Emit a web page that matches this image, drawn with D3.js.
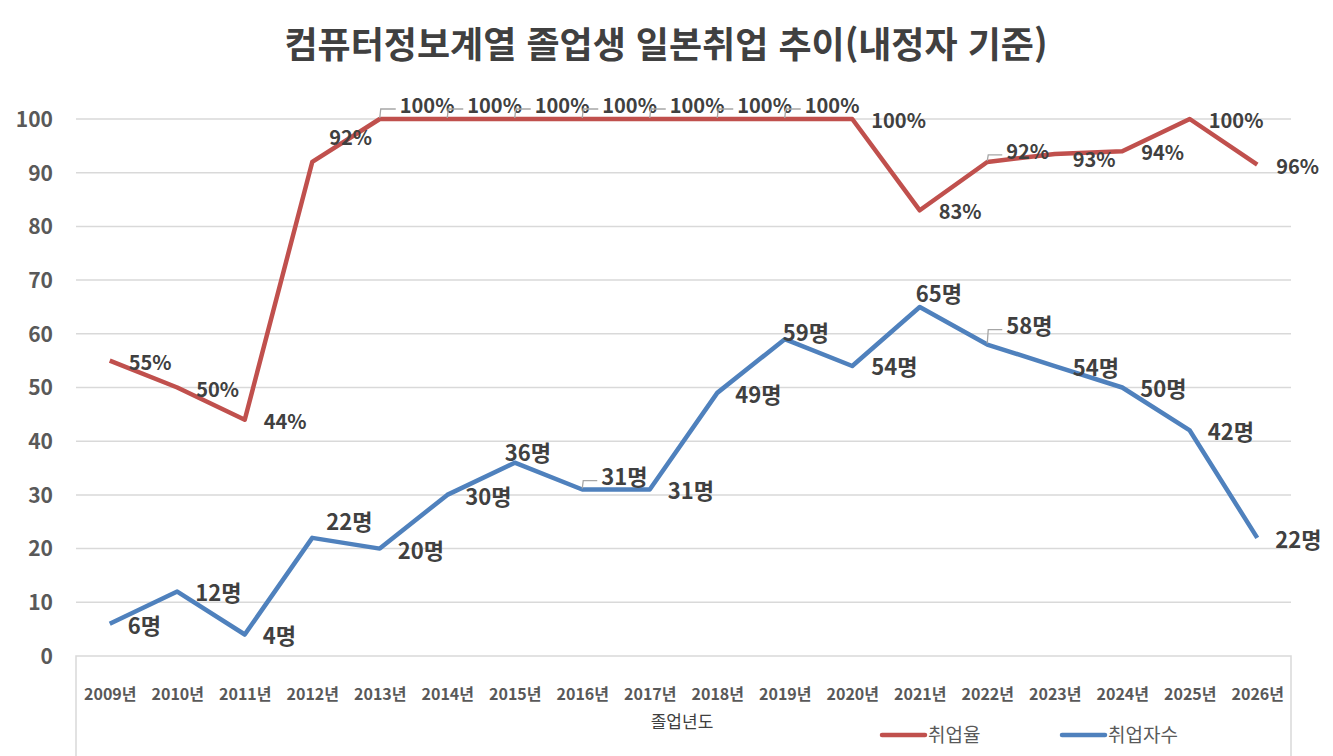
<!DOCTYPE html>
<html lang="ko">
<head>
<meta charset="utf-8">
<title>컴퓨터정보계열 졸업생 일본취업 추이</title>
<script src="https://d3js.org/d3.v7.min.js"></script>
<style>
  body { margin: 0; background: #fff; }
  svg text { font-family: "Noto Sans CJK KR", "Noto Sans", sans-serif; }
</style>
</head>
<body>
<chart></chart>
<script>
// 졸업년도
const years = ["2009년","2010년","2011년","2012년","2013년","2014년","2015년","2016년","2017년",
  "2018년","2019년","2020년","2021년","2022년","2023년","2024년","2025년","2026년"];
// 취업율 (plotted values) and its data labels
const rateValues = [55, 50, 44, 92, 100, 100, 100, 100, 100, 100, 100, 100, 83, 92, 93.5, 94, 100, 91.5];
const rateLabels = ["55%","50%","44%","92%","100%","100%","100%","100%","100%","100%","100%","100%",
  "83%","92%","93%","94%","100%","96%"];
// 취업자수
const countValues = [6, 12, 4, 22, 20, 30, 36, 31, 31, 49, 59, 54, 65, 58, 54, 50, 42, 22];
const yTicks = [0, 10, 20, 30, 40, 50, 60, 70, 80, 90, 100];

const W = 1333, H = 756;
const plot = { left: 76, right: 1291, top: 119, bottom: 656 };

const svg = d3.select("chart").append("svg")
  .attr("width", W).attr("height", H);

const x = d3.scalePoint().domain(years)
  .range([plot.left, plot.right]).padding(0.5);
const y = d3.scaleLinear().domain([0, 100]).range([plot.bottom, plot.top]);

// title
svg.append("text")
  .attr("x", 666).attr("y", 58)
  .attr("text-anchor", "middle")
  .attr("font-size", 36).attr("font-weight", 700)
  .attr("fill", "#404040")
  .text("컴퓨터정보계열 졸업생 일본취업 추이(내정자 기준)");

// gridlines
svg.append("g").selectAll("line")
  .data(yTicks.filter(d => d > 0))
  .join("line")
  .attr("x1", plot.left).attr("x2", plot.right)
  .attr("y1", d => y(d)).attr("y2", d => y(d))
  .attr("stroke", "#d9d9d9").attr("stroke-width", 1.5);

// y axis labels
const yAxis = d3.axisLeft(y).tickValues(yTicks).tickSize(0).tickPadding(0);
svg.append("g")
  .attr("transform", "translate(53,0)")
  .call(yAxis)
  .call(g => g.select(".domain").remove())
  .call(g => g.selectAll("text")
    .attr("font-size", 21).attr("font-weight", 700)
    .attr("fill", "#595959").attr("dy", "0.35em"));

// x axis box
const axisBox = svg.append("g").attr("stroke", "#d9d9d9").attr("stroke-width", 1.5).attr("fill", "none");
axisBox.append("path")
  .attr("d", `M${plot.left},${H}V${plot.bottom}H${plot.right}V${H}`);

const xAxis = d3.axisBottom(x).tickSize(0).tickPadding(0);
svg.append("g")
  .attr("transform", `translate(0,${plot.bottom})`)
  .call(xAxis)
  .call(g => g.select(".domain").remove())
  .call(g => g.selectAll("text")
    .attr("y", 33)
    .attr("font-size", 16).attr("font-weight", 700)
    .attr("fill", "#595959"));

svg.append("text")
  .attr("x", 682).attr("y", 728)
  .attr("text-anchor", "middle")
  .attr("font-size", 17).attr("fill", "#404040")
  .text("졸업년도");

// lines
const line = d3.line().x((d, i) => x(years[i])).y(d => y(d));
const series = [
  { name: "취업율", values: rateValues, color: "#c0504d" },
  { name: "취업자수", values: countValues, color: "#4f81bd" }
];
svg.append("g").selectAll("path")
  .data(series)
  .join("path")
  .attr("d", d => line(d.values))
  .attr("fill", "none")
  .attr("stroke", d => d.color)
  .attr("stroke-width", 4.5)
  .attr("stroke-linejoin", "round");

// data label placement (dx, dy from the point to the label's start/middle, leader line flag)
const ratePlace = rateValues.map(() => [19, 2, false]);
ratePlace[3] = [17, -24, false];
[4, 5, 6, 7, 8, 9, 10].forEach(i => { ratePlace[i] = [20, -13, true]; });
ratePlace[13] = [19, -10, true];
ratePlace[14] = [18, 6, false];

const countPlace = countValues.map(() => [18, 2, false]);
countPlace[3] = [14, -16, false];
countPlace[6] = [-10, -10, false];
countPlace[7] = [19, -12, true];
countPlace[10] = [-2, -6, false];
countPlace[11] = [19, 1, false];
countPlace[12] = [-4, -13, false];
countPlace[13] = [19, -18, true];

function drawLabels(values, labels, place, size) {
  const g = svg.append("g");
  values.forEach((v, i) => {
    const px = x(years[i]), py = y(v);
    const [dx, dy, leader] = place[i];
    if (leader) {
      g.append("path")
        .attr("d", `M${px},${py - 1}L${px + 1},${py + dy + 3}H${px + dx - 4}`)
        .attr("fill", "none").attr("stroke", "#a6a6a6").attr("stroke-width", 1.3);
    }
    g.append("text")
      .attr("x", px + dx).attr("y", py + dy)
      .attr("dy", "0.36em")
      .attr("font-size", size).attr("font-weight", 700)
      .attr("fill", "#404040")
      .text(labels[i]);
  });
}
drawLabels(rateValues, rateLabels, ratePlace, 20);
drawLabels(countValues, countValues.map(d => d + "명"), countPlace, 22);

// legend
const legend = svg.append("g").selectAll("g")
  .data(series)
  .join("g")
  .attr("transform", (d, i) => `translate(${882 + i * 180},735)`);
legend.append("line")
  .attr("x1", 0).attr("x2", 43)
  .attr("stroke", d => d.color).attr("stroke-width", 4.5)
  .attr("stroke-linecap", "round");
legend.append("text")
  .attr("x", 46).attr("dy", "0.35em")
  .attr("font-size", 19).attr("fill", "#595959")
  .text(d => d.name);
</script>
</body>
</html>
